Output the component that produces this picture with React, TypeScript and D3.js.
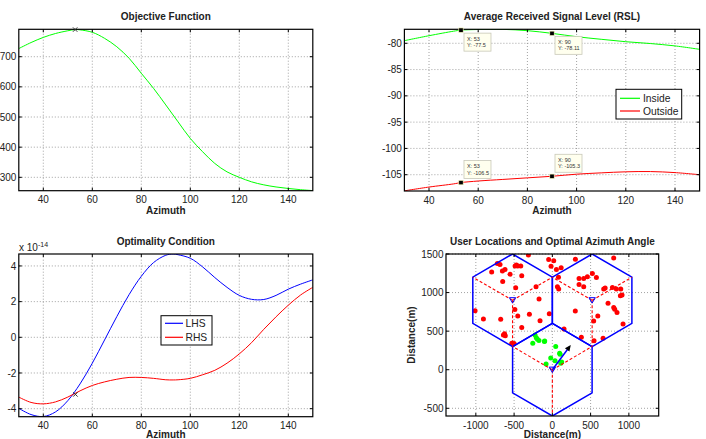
import React from 'react';
import * as d3 from 'd3';

// ---------- DATA ----------
const objAz = [30, 35, 40, 45, 50, 53, 55, 60, 65, 70, 75, 80, 85, 90, 95, 100, 105, 110, 115, 120, 125, 130, 135, 140, 145, 150];
const objVal = [727, 747, 764, 777, 786, 790, 789, 781, 761, 733, 695, 645, 595, 540, 484, 429, 385, 346, 318, 300, 285, 275, 268, 263, 259, 256];
const objOpt = { az: 53, val: 790 };

const rslAz = [30, 40, 50, 53, 60, 70, 80, 90, 100, 110, 120, 130, 140, 150];
const rslInside = [-79.5, -78.56, -77.7, -77.5, -77.38, -77.35, -77.6, -78.11, -78.75, -79.24, -79.7, -80.05, -80.5, -81.15];
const rslOutside = [-108.07, -107.35, -106.75, -106.5, -106.2, -105.9, -105.6, -105.3, -104.9, -104.65, -104.45, -104.4, -104.6, -105.0];
const tipAz = [53, 90];
const tipInside = [-77.5, -78.11];
const tipOutside = [-106.5, -105.3];

const optAz = [30, 35, 40, 45, 50, 55, 60, 65, 70, 75, 80, 85, 90, 93, 95, 100, 105, 110, 115, 120, 125, 130, 135, 140, 145, 150];
const lhs = [-3.98, -4.33, -4.44, -4.18, -3.55, -2.61, -1.45, -0.15, 1.16, 2.39, 3.42, 4.19, 4.6, 4.67, 4.63, 4.43, 3.95, 3.35, 2.8, 2.35, 2.13, 2.12, 2.35, 2.7, 2.98, 3.22];
const rhs = [-3.35, -3.65, -3.73, -3.62, -3.35, -3.0, -2.7, -2.5, -2.35, -2.25, -2.25, -2.3, -2.38, -2.39, -2.38, -2.3, -2.1, -1.85, -1.45, -0.93, -0.3, 0.45, 1.15, 1.8, 2.37, 2.8];
const optCross = { az: 52.5, val: -3.2 };

const azTicks = [40, 60, 80, 100, 120, 140];
const objTicks = [300, 400, 500, 600, 700];
const rslTicks = [-105, -100, -95, -90, -85, -80];
const optTicks = [-4, -2, 0, 2, 4];
const distXTicks = [-1000, -500, 0, 500, 1000];
const distYTicks = [-500, 0, 500, 1000, 1500];

const cellRadius = 600;
const bsX = [0, -520, 520];
const bsY = [0, 900, 900];
const arrowAzimuth = 53;
const arrowLength = 400;

const redX = [-313, -719, -684, -487, -452, -413, -470, -793, -653, -619, -553, -400, -649, -174, -1010, -300, -452, -901, -675, -161, -40, -400, -640, -615, -625, -530, -500, -213, -479, -490,
  -48, 18, -17, 53, 115, 80, 66, 83,
  301, 802, 523, 458, 576, 349, 410, 349, 410, 671, 690, 785, 837, 894, 889, 911, 728, 802, 815, 845, 594, 540, 300, 924,
  153, 379, 663, 545];
const redY = [1488, 1376, 1364, 1346, 1346, 1346, 1358, 1268, 1281, 1299, 1239, 1217, 1144, 916, 765, 718, 697, 658, 654, 636, 725, 546, 451, 440, 465, 344, 340, 1075, 1062, 780,
  1428, 1411, 1340, 1300, 1322, 1200, 1075, 1045,
  1432, 1449, 1247, 1204, 1196, 1183, 1183, 1105, 1075, 1045, 1060, 1067, 1045, 1045, 959, 968, 860, 808, 783, 743, 697, 632, 762, 593,
  528, 420, 408, 374];
const greenX = [-226, -210, -195, -175, -104, -100, -256, 44, 101, 95, -21, 35, 122, -82, 110];
const greenY = [450, 415, 395, 380, 366, 372, 344, 301, 202, 215, 151, 116, 99, 73, 85];

// ---------- LAYOUT ----------
const FONT = "'Liberation Sans', Arial, Helvetica, sans-serif";
const GREEN = '#00ff00';
const RED = '#ff0000';
const BLUE = '#0000ff';

type PanelProps = {
  id: string;
  x: d3.ScaleLinear<number, number>;
  y: d3.ScaleLinear<number, number>;
  xTicks: number[];
  yTicks: number[];
  title: string;
  xLabel: string;
  xLabelDy: number;
  yLabel?: string;
  children?: React.ReactNode;
};

function Panel({ id, x, y, xTicks, yTicks, title, xLabel, xLabelDy, yLabel, children }: PanelProps) {
  const [x0, x1] = x.range();
  const [y0, y1] = y.range();
  const tl = 3;
  return (
    <g>
      <defs>
        <clipPath id={id}>
          <rect x={x0} y={y1} width={x1 - x0} height={y0 - y1} />
        </clipPath>
      </defs>
      {xTicks.map((t) => (
        <line key={'gx' + t} x1={x(t)} x2={x(t)} y1={y0} y2={y1} stroke="#8a8a8a" strokeWidth={0.8} strokeDasharray="1,2" />
      ))}
      {yTicks.map((t) => (
        <line key={'gy' + t} x1={x0} x2={x1} y1={y(t)} y2={y(t)} stroke="#8a8a8a" strokeWidth={0.8} strokeDasharray="1,2" />
      ))}
      <g clipPath={`url(#${id})`}>{children}</g>
      <rect x={x0} y={y1} width={x1 - x0} height={y0 - y1} fill="none" stroke="#000" strokeWidth={1.2} />
      {xTicks.map((t) => (
        <g key={'tx' + t}>
          <line x1={x(t)} x2={x(t)} y1={y0} y2={y0 - tl} stroke="#000" />
          <line x1={x(t)} x2={x(t)} y1={y1} y2={y1 + tl} stroke="#000" />
          <text x={x(t)} y={y0 + 12.5} textAnchor="middle" fontSize={10} fontFamily={FONT} fill="#222">{t}</text>
        </g>
      ))}
      {yTicks.map((t) => (
        <g key={'ty' + t}>
          <line x1={x0} x2={x0 + tl} y1={y(t)} y2={y(t)} stroke="#000" />
          <line x1={x1} x2={x1 - tl} y1={y(t)} y2={y(t)} stroke="#000" />
          <text x={x0 - 2.5} y={y(t) + 3.6} textAnchor="end" fontSize={10} fontFamily={FONT} fill="#222">{t}</text>
        </g>
      ))}
      <text x={(x0 + x1) / 2} y={y1 - 9} textAnchor="middle" fontSize={10} fontWeight="bold" fontFamily={FONT} fill="#222">{title}</text>
      <text x={(x0 + x1) / 2} y={y0 + xLabelDy} textAnchor="middle" fontSize={10} fontWeight="bold" fontFamily={FONT} fill="#222">{xLabel}</text>
      {yLabel && (
        <text transform={`translate(${x0 - 31},${(y0 + y1) / 2}) rotate(-90)`} textAnchor="middle" fontSize={10} fontWeight="bold" fontFamily={FONT} fill="#222">{yLabel}</text>
      )}
    </g>
  );
}

function XMark({ cx, cy }: { cx: number; cy: number }) {
  const s = 2.2;
  return (
    <g stroke="#333" strokeWidth={1}>
      <line x1={cx - s} y1={cy - s} x2={cx + s} y2={cy + s} />
      <line x1={cx - s} y1={cy + s} x2={cx + s} y2={cy - s} />
    </g>
  );
}

export default function App() {
  const curve = d3.curveCatmullRom.alpha(0.5);

  const xTL = d3.scaleLinear().domain([30, 150]).range([18.8, 312.8]);
  const yTL = d3.scaleLinear().domain([255.6, 790.9]).range([190.7, 29.3]);
  const objLine = d3.line<number>().x((_, i) => xTL(objAz[i])).y((d) => yTL(d)).curve(curve);

  const xTR = d3.scaleLinear().domain([30, 150]).range([404.4, 699.6]);
  const yTR = d3.scaleLinear().domain([-108.1, -77.34]).range([191, 29.3]);
  const rslLine = d3.line<number>().x((_, i) => xTR(rslAz[i])).y((d) => yTR(d)).curve(curve);

  const xBL = d3.scaleLinear().domain([30, 150]).range([18.8, 312.8]);
  const yBL = d3.scaleLinear().domain([-4.45, 4.67]).range([416.7, 254]);
  const optLine = d3.line<number>().x((_, i) => xBL(optAz[i])).y((d) => yBL(d)).curve(curve);

  const xBR = d3.scaleLinear().domain([-1390, 1390]).range([446, 658.7]);
  const yBR = d3.scaleLinear().domain([-600, 1500]).range([416, 254]);
  const w = cellRadius * Math.cos(Math.PI / 6);
  const hexPts = (cx: number, cy: number) =>
    [[0, cellRadius], [w, cellRadius / 2], [w, -cellRadius / 2], [0, -cellRadius], [-w, -cellRadius / 2], [-w, cellRadius / 2], [0, cellRadius]]
      .map(([dx, dy]) => `${xBR(cx + dx)},${yBR(cy + dy)}`).join(' ');
  const sectorDirs = [[0, -cellRadius], [-w, cellRadius / 2], [w, cellRadius / 2]];
  const ar = (arrowAzimuth * Math.PI) / 180;
  const ax = arrowLength * Math.cos(ar);
  const ay = arrowLength * Math.sin(ar);
  const px0 = xBR(0), py0 = yBR(0), px1 = xBR(ax), py1 = yBR(ay);
  const ang = Math.atan2(py1 - py0, px1 - px0);
  const hl = 6, hw = 2.8;
  const head = [
    [px1, py1],
    [px1 - hl * Math.cos(ang) + hw * Math.sin(ang), py1 - hl * Math.sin(ang) - hw * Math.cos(ang)],
    [px1 - hl * Math.cos(ang) - hw * Math.sin(ang), py1 - hl * Math.sin(ang) + hw * Math.cos(ang)],
  ].map((p) => p.join(',')).join(' ');

  const tipW = 27, tipH = 18;
  const Tip = ({ px, py, az, v, above }: { px: number; py: number; az: number; v: number; above: boolean }) => {
    const bx = px + 3;
    const by = above ? py - 22 : py + 3;
    return (
      <g>
        <rect x={bx} y={by} width={tipW} height={tipH} fill="#ffffee" stroke="#c8c8b8" strokeWidth={0.8} />
        <text x={bx + 3} y={by + 7.5} fontSize={5.5} fontFamily={FONT} fill="#333">{`X: ${az}`}</text>
        <text x={bx + 3} y={by + 14} fontSize={5.5} fontFamily={FONT} fill="#333">{`Y: ${v}`}</text>
        <rect x={px - 2.2} y={py - 2.2} width={4.4} height={4.4} fill="#000" stroke="#ffffc0" strokeWidth={0.6} />
      </g>
    );
  };

  return (
    <svg width={706} height={439} style={{ position: 'absolute', left: 0, top: 0, background: '#fff' }}>
      <rect x={0} y={0} width={706} height={439} fill="#fff" />

      <Panel id="c1" x={xTL} y={yTL} xTicks={azTicks} yTicks={objTicks} title="Objective Function" xLabel="Azimuth" xLabelDy={23.5}>
        <path d={objLine(objVal) || ''} fill="none" stroke={GREEN} strokeWidth={1} />
      </Panel>
      <XMark cx={xTL(objOpt.az)} cy={yTL(objOpt.val)} />

      <Panel id="c2" x={xTR} y={yTR} xTicks={azTicks} yTicks={rslTicks} title="Average Received Signal Level (RSL)" xLabel="Azimuth" xLabelDy={23.3}>
        <path d={rslLine(rslInside) || ''} fill="none" stroke={GREEN} strokeWidth={1} />
        <path d={rslLine(rslOutside) || ''} fill="none" stroke={RED} strokeWidth={1} />
      </Panel>
      {tipAz.map((a, i) => (
        <Tip key={'ti' + i} px={xTR(a)} py={yTR(tipInside[i])} az={a} v={tipInside[i]} above={false} />
      ))}
      {tipAz.map((a, i) => (
        <Tip key={'to' + i} px={xTR(a)} py={yTR(tipOutside[i])} az={a} v={tipOutside[i]} above={true} />
      ))}
      <g>
        <rect x={616} y={89.3} width={65.7} height={29.7} fill="#fff" stroke="#000" strokeWidth={1} />
        <line x1={620} x2={640} y1={98.3} y2={98.3} stroke={GREEN} strokeWidth={1.2} />
        <text x={643} y={102} fontSize={10.3} fontFamily={FONT} fill="#222">Inside</text>
        <line x1={620} x2={640} y1={111} y2={111} stroke={RED} strokeWidth={1.2} />
        <text x={643} y={114.7} fontSize={10.3} fontFamily={FONT} fill="#222">Outside</text>
      </g>

      <Panel id="c3" x={xBL} y={yBL} xTicks={azTicks} yTicks={optTicks} title="Optimality Condition" xLabel="Azimuth" xLabelDy={21.6}>
        <path d={optLine(lhs) || ''} fill="none" stroke={BLUE} strokeWidth={1} />
        <path d={optLine(rhs) || ''} fill="none" stroke={RED} strokeWidth={1} />
      </Panel>
      <XMark cx={xBL(optCross.az) + 1.5} cy={yBL(optCross.val)} />
      <text x={19} y={251} fontSize={10} fontFamily={FONT} fill="#222">x 10<tspan dy={-4} fontSize={7}>-14</tspan></text>
      <g>
        <rect x={161} y={315.7} width={51} height={29.3} fill="#fff" stroke="#000" strokeWidth={1} />
        <line x1={165} x2={183} y1={323.3} y2={323.3} stroke={BLUE} strokeWidth={1.2} />
        <text x={185.5} y={327} fontSize={10.3} fontFamily={FONT} fill="#222">LHS</text>
        <line x1={165} x2={183} y1={337.3} y2={337.3} stroke={RED} strokeWidth={1.2} />
        <text x={185.5} y={341} fontSize={10.3} fontFamily={FONT} fill="#222">RHS</text>
      </g>

      <Panel id="c4" x={xBR} y={yBR} xTicks={distXTicks} yTicks={distYTicks} title="User Locations and Optimal Azimuth Angle" xLabel="Distance(m)" xLabelDy={22} yLabel="Distance(m)">
        {redX.map((xv, i) => (
          <circle key={'r' + i} cx={xBR(xv)} cy={yBR(redY[i])} r={2.5} fill={RED} />
        ))}
        {greenX.map((xv, i) => (
          <circle key={'g' + i} cx={xBR(xv)} cy={yBR(greenY[i])} r={2.5} fill={GREEN} />
        ))}
        {bsX.map((bx, i) => (
          <polyline key={'h' + i} points={hexPts(bx, bsY[i])} fill="none" stroke={BLUE} strokeWidth={1.5} />
        ))}
        {bsX.map((bx, i) =>
          sectorDirs.map(([dx, dy], j) => (
            <line key={'s' + i + '-' + j} x1={xBR(bx)} y1={yBR(bsY[i])} x2={xBR(bx + dx)} y2={yBR(bsY[i] + dy)} stroke={RED} strokeWidth={1.1} strokeDasharray="3,2" />
          ))
        )}
        {bsX.map((bx, i) => {
          const cx = xBR(bx), cy = yBR(bsY[i]);
          return <polygon key={'b' + i} points={`${cx - 3.2},${cy - 2.6} ${cx + 3.2},${cy - 2.6} ${cx},${cy + 2.8}`} fill="none" stroke={BLUE} strokeWidth={1} />;
        })}
        <line x1={px0} y1={py0} x2={px1 - 4 * Math.cos(ang)} y2={py1 - 4 * Math.sin(ang)} stroke={BLUE} strokeWidth={1.5} />
        <polygon points={head} fill="#000" />
      </Panel>
    </svg>
  );
}
